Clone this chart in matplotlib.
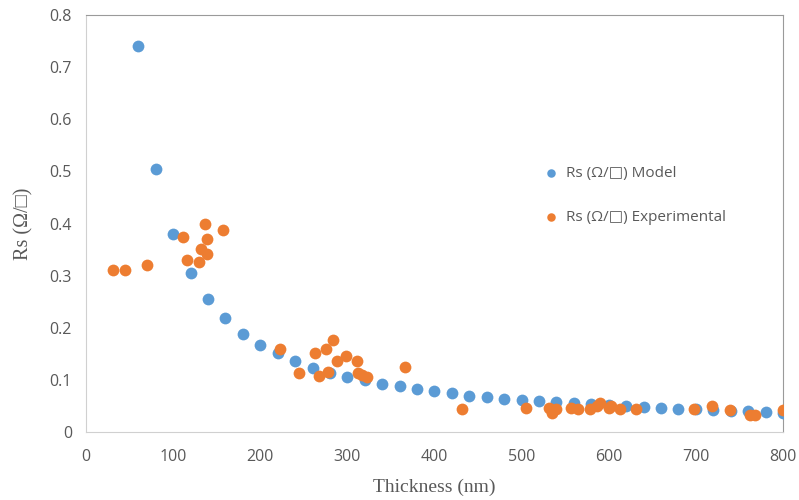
import matplotlib
matplotlib.use('Agg')
from matplotlib import pyplot as plt

# Model curve (every 20 nm from 60 to 800)
model_x = [60, 80, 100, 120, 140, 160, 180, 200, 220, 240, 260, 280, 300, 320,
           340, 360, 380, 400, 420, 440, 460, 480, 500, 520, 540, 560, 580, 600,
           620, 640, 660, 680, 700, 720, 740, 760, 780, 800]
model_y = [0.741, 0.505, 0.380, 0.305, 0.255, 0.218, 0.188, 0.166, 0.151, 0.136,
           0.123, 0.114, 0.106, 0.099, 0.093, 0.088, 0.083, 0.078, 0.074, 0.070,
           0.067, 0.064, 0.062, 0.060, 0.057, 0.055, 0.053, 0.051, 0.050, 0.048,
           0.046, 0.045, 0.044, 0.042, 0.041, 0.040, 0.038, 0.037]

# Measured points
exp_x = [31, 45, 70, 111, 116, 130, 132, 137, 139, 139, 157, 223, 245, 263, 268,
         275, 278, 284, 288, 299, 311, 312, 317, 322, 366, 431, 505, 531, 535,
         539, 557, 565, 579, 586, 590, 600, 602, 613, 631, 698, 718, 739, 762,
         768, 800]
exp_y = [0.310, 0.310, 0.320, 0.374, 0.330, 0.327, 0.351, 0.399, 0.370, 0.341,
         0.388, 0.159, 0.114, 0.151, 0.108, 0.159, 0.115, 0.177, 0.137, 0.146,
         0.137, 0.113, 0.109, 0.106, 0.124, 0.045, 0.047, 0.047, 0.037, 0.045,
         0.047, 0.045, 0.044, 0.049, 0.055, 0.047, 0.049, 0.045, 0.045, 0.045,
         0.049, 0.042, 0.033, 0.033, 0.042]

x_ticks = [0, 100, 200, 300, 400, 500, 600, 700, 800]
y_ticks = [0, 0.1, 0.2, 0.3, 0.4, 0.5, 0.6, 0.7, 0.8]

BLUE = '#5B9BD5'
ORANGE = '#ED7D31'
GREY = '#595959'

fig = plt.figure(figsize=(7.99, 5.0), dpi=100)
ax = fig.add_axes([0.1076, 0.136, 0.8724, 0.834])

ax.scatter(model_x, model_y, s=72, color=BLUE, linewidths=0, zorder=3,
           label='Rs (Ω/□) Model')
ax.scatter(exp_x, exp_y, s=72, color=ORANGE, linewidths=0, zorder=4,
           label='Rs (Ω/□) Experimental')

ax.set_xlim(0, 800)
ax.set_ylim(0, 0.8)
ax.set_xticks(x_ticks)
ax.set_yticks(y_ticks)
ax.set_xticklabels([str(v) for v in x_ticks])
ax.set_yticklabels(['0'] + ['%.1f' % v for v in y_ticks[1:]])
ax.tick_params(length=0, labelsize=11.5, colors=GREY)
ax.tick_params(axis='x', pad=12)
ax.tick_params(axis='y', pad=10)
for lbl in ax.get_xticklabels() + ax.get_yticklabels():
    lbl.set_family('Open Sans')

for side in ['left', 'bottom']:
    ax.spines[side].set_color('#D0D0D0')
for side in ['top', 'right']:
    ax.spines[side].set_color('#9A9A9A')

ax.set_xlabel('Thickness (nm)', family='Liberation Serif', fontsize=14,
              color=GREY, labelpad=10)
ax.set_ylabel('Rs (Ω/□)', family=['Liberation Serif', 'DejaVu Sans'],
              fontsize=14.5, color=GREY, labelpad=12)

leg = ax.legend(loc='upper left', bbox_to_anchor=(0.625, 0.67), frameon=False,
                labelspacing=1.9, handletextpad=0.0, markerscale=0.72,
                prop={'family': ['Open Sans', 'DejaVu Sans'], 'size': 11})
for t in leg.get_texts():
    t.set_color(GREY)

fig.savefig('out.png', dpi=100)
